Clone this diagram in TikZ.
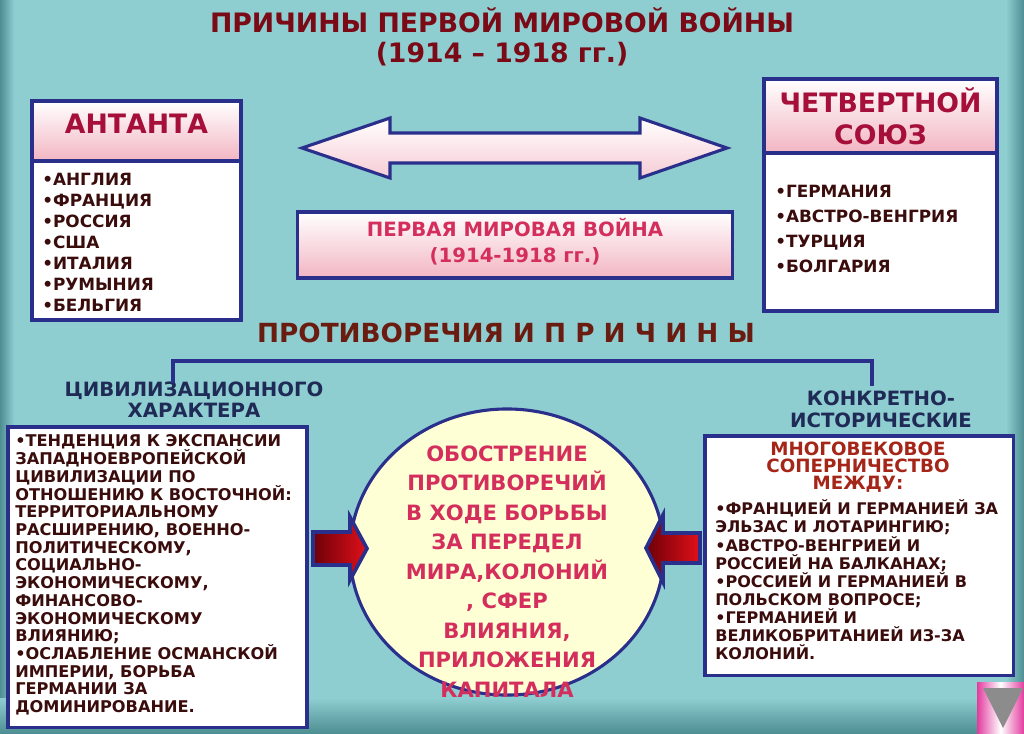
\documentclass[tikz,border=0pt]{standalone}
\usepackage{fontspec}
\setmainfont{DejaVu Sans}
\usetikzlibrary{positioning,shapes.geometric}
\definecolor{bgteal}{HTML}{8ECDD0}
\definecolor{edgeteal}{HTML}{4E8F93}
\definecolor{navy}{HTML}{2A2F8C}
\definecolor{navytext}{HTML}{1F2B56}
\definecolor{crimson}{HTML}{A50F3A}
\definecolor{rose}{HTML}{D42F5C}
\definecolor{pinkbot}{HTML}{F2B5C2}
\definecolor{maroon}{HTML}{7A0A16}
\definecolor{umber}{HTML}{6B1C10}
\definecolor{inkdark}{HTML}{3A0C0C}
\definecolor{brick}{HTML}{A52518}
\definecolor{cream}{HTML}{FFFFD6}
\definecolor{darkred}{HTML}{6E0008}
\definecolor{brightred}{HTML}{E0101A}
\definecolor{iconpink}{HTML}{E23C9E}
\newcommand{\txtfont}[2]{\fontsize{#1}{#2}\selectfont\bfseries}

\begin{document}
\begin{tikzpicture}[x=0.025cm, y=-0.025cm, >=stealth,
  frame/.style={draw=navy, line width=2.2pt},
  headbox/.style={frame, top color=white, bottom color=pinkbot},
  listbox/.style={frame, fill=white},
  txt/.style={inner sep=0pt, font=\bfseries},
  redarrow/.style={draw=navy, line width=2.6pt, left color=darkred, right color=brightred}]
  \useasboundingbox (0,0) rectangle (1024,733);
  \fill[bgteal] (0,0) rectangle (1024,733);
  \shade[left color=edgeteal, right color=bgteal] (0,0) rectangle (14,733);
  \shade[left color=bgteal, right color=edgeteal] (1006,0) rectangle (1024,733);
  \shade[top color=bgteal, bottom color=edgeteal] (0,698) rectangle (1024,733);

  \node[txt, text=maroon, align=center, font=\txtfont{19}{21.3}] (title) at (502,37) {ПРИЧИНЫ ПЕРВОЙ МИРОВОЙ ВОЙНЫ\\(1914 – 1918 гг.)};

  % blocs
  \node[headbox, minimum width=5.225cm, minimum height=1.5cm] (antantahead) at (136.5,131) {};
  \node[txt, text=crimson, font=\txtfont{19}{22}] (antantaname) at (136.5,124) {АНТАНТА};
  \node[listbox, minimum width=5.225cm, minimum height=3.975cm] (antantabody) at (136.5,240.5) {};
  \node[txt, text=inkdark, align=left, anchor=west, font=\txtfont{12}{14.9}] (antantalist) at (42,242)
    {•АНГЛИЯ\\•ФРАНЦИЯ\\•РОССИЯ\\•США\\•ИТАЛИЯ\\•РУМЫНИЯ\\•БЕЛЬГИЯ};

  \node[headbox, minimum width=5.825cm, minimum height=1.85cm] (chetvhead) at (880.5,116) {};
  \node[txt, text=crimson, align=center, font=\txtfont{19}{22.8}] (chetvname) at (880.5,116) {ЧЕТВЕРТНОЙ\\СОЮЗ};
  \node[listbox, minimum width=5.825cm, minimum height=3.95cm] (chetvbody) at (880.5,232) {};
  \node[txt, text=inkdark, align=left, anchor=west, font=\txtfont{12}{17.8}] (chetvlist) at (775,229)
    {•ГЕРМАНИЯ\\•АВСТРО-ВЕНГРИЯ\\•ТУРЦИЯ\\•БОЛГАРИЯ};

  \draw[frame, top color=white, bottom color=pinkbot!70] (302,148) -- (390,118) -- (390,133) -- (640,133) -- (640,118)
    -- (727,148) -- (640,178) -- (640,163) -- (390,163) -- (390,178) -- cycle;

  \node[headbox, minimum width=10.85cm, minimum height=1.65cm] (warbox) at (515,245) {};
  \node[txt, text=rose, align=center, font=\txtfont{14}{18.5}] (warname) at (515,242) {ПЕРВАЯ МИРОВАЯ ВОЙНА\\(1914-1918 гг.)};

  % contradictions
  \node[txt, text=umber, font=\txtfont{18.7}{20}] (contra) at (506,333) {ПРОТИВОРЕЧИЯ И П Р И Ч И Н Ы};
  \node[txt, text=navytext, align=center, font=\txtfont{14}{15}] (civ) at (194,400) {ЦИВИЛИЗАЦИОННОГО\\ХАРАКТЕРА};
  \node[txt, text=navytext, align=center, font=\txtfont{14}{15.5}] (konk) at (881,409) {КОНКРЕТНО-\\ИСТОРИЧЕСКИЕ};
  \coordinate (civtop) at (173,383);
  \coordinate (konktop) at (872,386);
  \draw[navy, line width=2.2pt] (civtop) -- ++(0,-22) -| (konktop);

  \node[listbox, minimum width=7.475cm, minimum height=7.5cm] (civbox) at (157.5,577) {};
  \node[txt, text=inkdark, align=left, anchor=west, font=\txtfont{11.5}{12.6}] (civtext) at (15,575)
    {•ТЕНДЕНЦИЯ К ЭКСПАНСИИ\\ЗАПАДНОЕВРОПЕЙСКОЙ\\ЦИВИЛИЗАЦИИ ПО\\ОТНОШЕНИЮ К ВОСТОЧНОЙ:\\ТЕРРИТОРИАЛЬНОМУ\\
     РАСШИРЕНИЮ, ВОЕННО-\\ПОЛИТИЧЕСКОМУ,\\СОЦИАЛЬНО-\\ЭКОНОМИЧЕСКОМУ,\\ФИНАНСОВО-\\ЭКОНОМИЧЕСКОМУ\\ВЛИЯНИЮ;\\
     •ОСЛАБЛЕНИЕ ОСМАНСКОЙ\\ИМПЕРИИ, БОРЬБА\\ГЕРМАНИИ ЗА\\ДОМИНИРОВАНИЕ.};

  \node[listbox, minimum width=7.7cm, minimum height=5.975cm] (konkbox) at (859,555.5) {};
  \node[txt, text=brick, align=center, font=\txtfont{13}{12.1}] (konkhead) at (858,467) {МНОГОВЕКОВОЕ\\СОПЕРНИЧЕСТВО\\МЕЖДУ:};
  \node[txt, text=inkdark, align=left, anchor=west, font=\txtfont{11.4}{12.9}] (konktext) at (715,580)
    {•ФРАНЦИЕЙ И ГЕРМАНИЕЙ ЗА\\ЭЛЬЗАС И ЛОТАРИНГИЮ;\\•АВСТРО-ВЕНГРИЕЙ И\\РОССИЕЙ НА БАЛКАНАХ;\\
     •РОССИЕЙ И ГЕРМАНИЕЙ В\\ПОЛЬСКОМ ВОПРОСЕ;\\•ГЕРМАНИЕЙ И\\ВЕЛИКОБРИТАНИЕЙ ИЗ-ЗА\\КОЛОНИЙ.};

  % core
  \node[ellipse, draw=navy, line width=2.2pt, fill=cream, minimum width=7.85cm, minimum height=7.15cm] (core) at (507,552) {};
  \node[txt, text=rose, align=center, font=\txtfont{15}{21}] (coretext) at (507,571.5)
    {ОБОСТРЕНИЕ\\ПРОТИВОРЕЧИЙ\\В ХОДЕ БОРЬБЫ\\ЗА ПЕРЕДЕЛ\\МИРА,КОЛОНИЙ\\, СФЕР\\ВЛИЯНИЯ,\\ПРИЛОЖЕНИЯ\\КАПИТАЛА};

  \draw[redarrow] (313,532) -- (350,532) -- (350,517) -- (367,548.5) -- (350,580) -- (350,565) -- (313,565) -- cycle;
  \draw[redarrow] (700,533) -- (663,533) -- (663,515) -- (646,548) -- (663,582) -- (663,563) -- (700,563) -- cycle;

  \shade[left color=iconpink, right color=iconpink, middle color=white] (977,682) rectangle (1024,733);
  \fill[gray!90] (983,688) -- (1023,688) -- (1003,728) -- cycle;
\end{tikzpicture}
\end{document}
